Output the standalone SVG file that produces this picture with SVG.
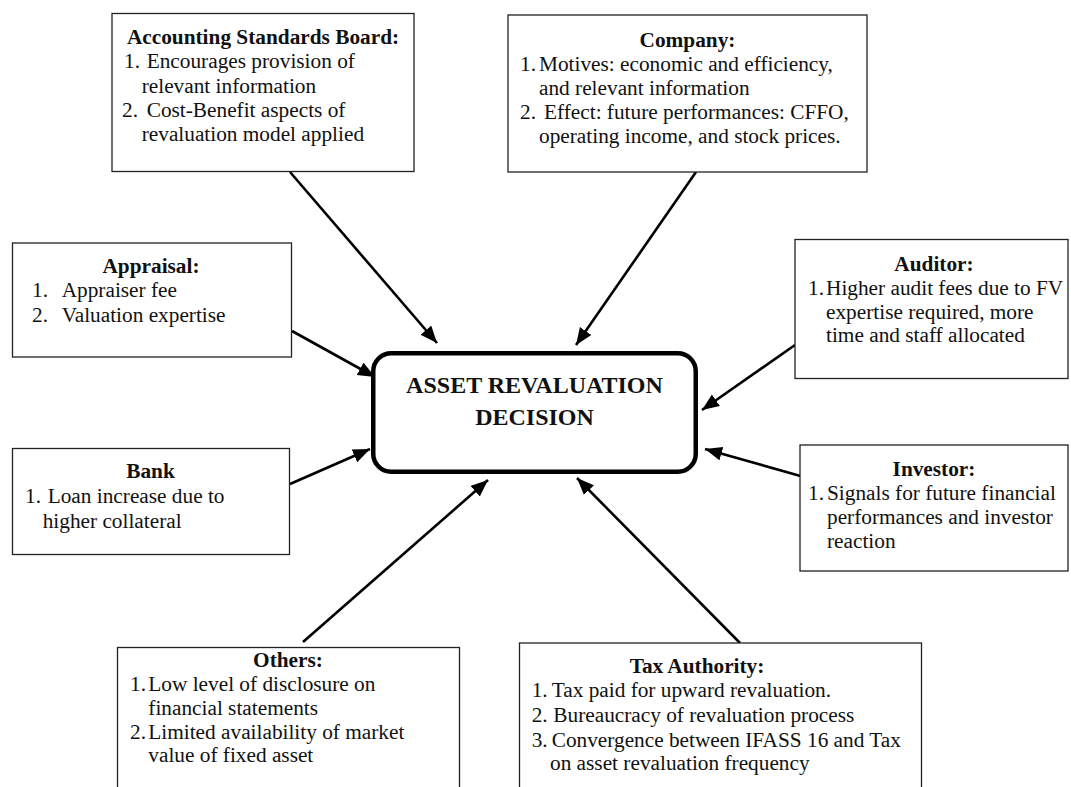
<svg xmlns="http://www.w3.org/2000/svg" width="1071" height="787" viewBox="0 0 1071 787">
<style>
.box{fill:#fff;stroke:#222;stroke-width:1.3}
.t{font-family:"Liberation Serif","Times New Roman",serif;font-size:21.3px;fill:#111}
.h{font-weight:bold;text-anchor:middle}
.c{font-family:"Liberation Serif","Times New Roman",serif;font-size:24px;font-weight:bold;text-anchor:middle;fill:#111}
.ln{stroke:#000;stroke-width:2.6;fill:none;marker-end:url(#ah)}
</style>
<defs>
<marker id="ah" markerUnits="userSpaceOnUse" markerWidth="20" markerHeight="16" refX="17" refY="7" orient="auto">
<path d="M0,0 L17,7 L0,14 Z" fill="#000"/>
</marker>
</defs>
<rect width="1071" height="787" fill="#fff"/>
<g id="connectors">
<line class="ln" x1="290" y1="172" x2="437" y2="343"/>
<line class="ln" x1="696" y1="172" x2="576" y2="345"/>
<line class="ln" x1="292" y1="331" x2="375" y2="377"/>
<line class="ln" x1="290" y1="484" x2="370" y2="449"/>
<line class="ln" x1="795" y1="345" x2="702" y2="410"/>
<line class="ln" x1="804" y1="477" x2="705" y2="449"/>
<line class="ln" x1="303" y1="642" x2="488" y2="480"/>
<line class="ln" x1="740" y1="643" x2="577" y2="478"/>
</g>
<g id="center">
<rect x="373.25" y="353.25" width="322.5" height="118.5" rx="18" fill="#fff" stroke="#000" stroke-width="4.5"/>
<text class="c" x="534.5" y="393">ASSET REVALUATION</text>
<text class="c" x="534.5" y="425">DECISION</text>
</g>
<g id="asb">
<rect class="box" x="112" y="13.5" width="302" height="158"/>
<text class="t h" x="263" y="44">Accounting Standards Board:</text>
<text class="t" x="124" y="68">1.</text><text class="t" x="146.7" y="68">Encourages provision of</text>
<text class="t" x="141.7" y="92.5">relevant information</text>
<text class="t" x="122" y="116.5">2.</text><text class="t" x="146.7" y="116.5">Cost-Benefit aspects of</text>
<text class="t" x="141.7" y="140.5">revaluation model applied</text>
</g>
<g id="company">
<rect class="box" x="508" y="15" width="359" height="157"/>
<text class="t h" x="687.5" y="46.5">Company:</text>
<text class="t" x="520" y="71">1.</text><text class="t" x="539" y="71">Motives: economic and efficiency,</text>
<text class="t" x="539" y="95">and relevant information</text>
<text class="t" x="520" y="119">2.</text><text class="t" x="544" y="119">Effect: future performances: CFFO,</text>
<text class="t" x="539" y="142.5">operating income, and stock prices.</text>
</g>
<g id="appraisal">
<rect class="box" x="12.5" y="243" width="279" height="114"/>
<text class="t h" x="151" y="273">Appraisal:</text>
<text class="t" x="32" y="297">1.</text><text class="t" x="61.7" y="297">Appraiser fee</text>
<text class="t" x="32" y="322">2.</text><text class="t" x="61.7" y="322">Valuation expertise</text>
</g>
<g id="bank">
<rect class="box" x="12.5" y="448.5" width="277" height="106"/>
<text class="t h" x="150.5" y="478">Bank</text>
<text class="t" x="25" y="503">1.</text><text class="t" x="47.7" y="503">Loan increase due to</text>
<text class="t" x="42.7" y="528">higher collateral</text>
</g>
<g id="auditor">
<rect class="box" x="795" y="239.5" width="273" height="139"/>
<text class="t h" x="934" y="271">Auditor:</text>
<text class="t" x="808" y="295">1.</text><text class="t" x="826" y="295">Higher audit fees due to FV</text>
<text class="t" x="826" y="318.5">expertise required, more</text>
<text class="t" x="826" y="342">time and staff allocated</text>
</g>
<g id="investor">
<rect class="box" x="800" y="445" width="268" height="126"/>
<text class="t h" x="934" y="476">Investor:</text>
<text class="t" x="808" y="500">1.</text><text class="t" x="827" y="500">Signals for future financial</text>
<text class="t" x="827" y="524">performances and investor</text>
<text class="t" x="827" y="548">reaction</text>
</g>
<g id="others">
<rect class="box" x="117.5" y="647.5" width="342" height="160"/>
<text class="t h" x="288" y="667">Others:</text>
<text class="t" x="130" y="691">1.</text><text class="t" x="148.3" y="691">Low level of disclosure on</text>
<text class="t" x="148.3" y="715">financial statements</text>
<text class="t" x="130" y="738.5">2.</text><text class="t" x="148.3" y="738.5">Limited availability of market</text>
<text class="t" x="148.3" y="762">value of fixed asset</text>
</g>
<g id="tax">
<rect class="box" x="519.5" y="643" width="402" height="165"/>
<text class="t h" x="697" y="673">Tax Authority:</text>
<text class="t" x="531.7" y="697">1.</text><text class="t" x="551.7" y="697">Tax paid for upward revaluation.</text>
<text class="t" x="531.7" y="721.5">2.</text><text class="t" x="553.3" y="721.5">Bureaucracy of revaluation process</text>
<text class="t" x="531.7" y="746.5">3.</text><text class="t" x="551.7" y="746.5">Convergence between IFASS 16 and Tax</text>
<text class="t" x="550" y="770">on asset revaluation frequency</text>
</g>
</svg>
